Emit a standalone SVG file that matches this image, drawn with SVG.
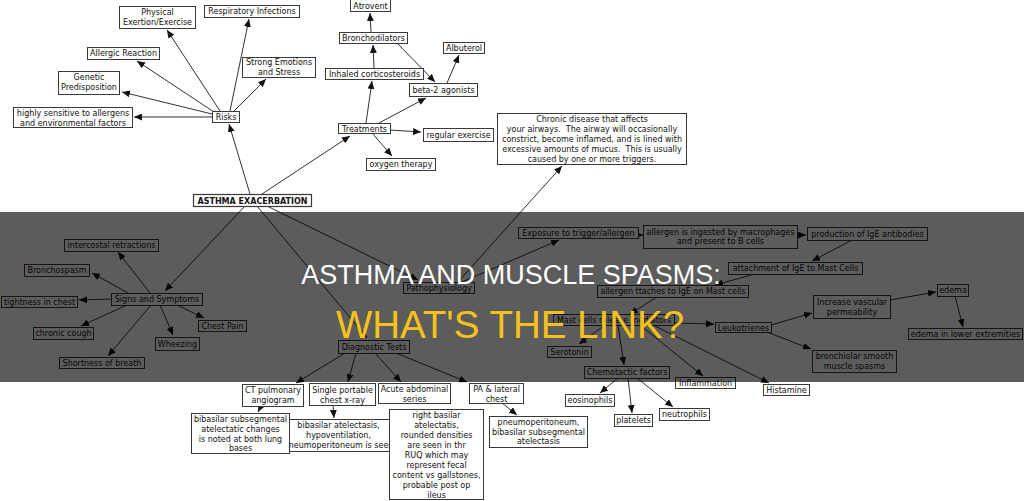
<svg xmlns="http://www.w3.org/2000/svg" width="1024" height="501" viewBox="0 0 1024 501">
<style>
rect.n{fill:#fff;stroke:#3a3a3a;stroke-width:1}
text{font-family:"DejaVu Sans",Verdana,sans-serif;font-size:8px;fill:#111;text-anchor:middle}
text.b{font-weight:bold}
text.pre{white-space:pre}
#connectors line{stroke:#333;stroke-width:1;marker-end:url(#ah)}
.t1{font-family:"Liberation Sans",Arial,sans-serif;font-size:27px;fill:#fff}
.t2{font-family:"Liberation Sans",Arial,sans-serif;font-size:38.5px;fill:#f5c21b}
</style>
<defs>
<marker id="ah" markerUnits="userSpaceOnUse" markerWidth="8" markerHeight="7" refX="8" refY="3.5" orient="auto">
<path d="M0,0 L8,3.5 L0,7 z" fill="#111"/>
</marker>
</defs>
<rect width="1024" height="501" fill="#fff"/>
<g id="connectors">
<line x1="220" y1="111" x2="167" y2="30"/>
<line x1="230" y1="111" x2="249" y2="19"/>
<line x1="214" y1="112" x2="137" y2="61"/>
<line x1="234" y1="111" x2="266" y2="79"/>
<line x1="212" y1="114" x2="122" y2="92"/>
<line x1="212" y1="117" x2="134" y2="117"/>
<line x1="250" y1="194" x2="229" y2="124"/>
<line x1="262" y1="194" x2="350" y2="136"/>
<line x1="371" y1="32" x2="370" y2="13"/>
<line x1="374" y1="68" x2="373" y2="45"/>
<line x1="397" y1="43" x2="435" y2="82"/>
<line x1="447" y1="83" x2="459" y2="55"/>
<line x1="366" y1="123" x2="372" y2="81"/>
<line x1="379" y1="123" x2="426" y2="98"/>
<line x1="390" y1="130" x2="421" y2="132"/>
<line x1="372" y1="133" x2="392" y2="156"/>
<line x1="245" y1="206" x2="165" y2="291"/>
<line x1="257" y1="206" x2="367" y2="338"/>
<line x1="267" y1="206" x2="418" y2="280"/>
<line x1="458" y1="282" x2="562" y2="166"/>
<line x1="462" y1="282" x2="559" y2="240"/>
<line x1="638" y1="235" x2="643" y2="235"/>
<line x1="797" y1="235" x2="806" y2="235"/>
<line x1="852" y1="240" x2="812" y2="261"/>
<line x1="755" y1="274" x2="715" y2="285"/>
<line x1="657" y1="297" x2="630" y2="314"/>
<line x1="674" y1="323" x2="714" y2="324"/>
<line x1="605" y1="325" x2="579" y2="344"/>
<line x1="618" y1="325" x2="624" y2="365"/>
<line x1="640" y1="325" x2="703" y2="376"/>
<line x1="653" y1="325" x2="769" y2="383"/>
<line x1="771" y1="325" x2="812" y2="313"/>
<line x1="767" y1="332" x2="811" y2="349"/>
<line x1="890" y1="300" x2="936" y2="292"/>
<line x1="955" y1="296" x2="963" y2="327"/>
<line x1="618" y1="378" x2="600" y2="393"/>
<line x1="628" y1="378" x2="632" y2="413"/>
<line x1="637" y1="378" x2="673" y2="407"/>
<line x1="150" y1="293" x2="118" y2="252"/>
<line x1="128" y1="293" x2="92" y2="273"/>
<line x1="111" y1="299" x2="79" y2="300"/>
<line x1="127" y1="305" x2="81" y2="326"/>
<line x1="177" y1="305" x2="204" y2="318"/>
<line x1="160" y1="305" x2="173" y2="335"/>
<line x1="151" y1="305" x2="108" y2="356"/>
<line x1="345" y1="353" x2="296" y2="383"/>
<line x1="356" y1="353" x2="348" y2="382"/>
<line x1="375" y1="353" x2="401" y2="382"/>
<line x1="396" y1="353" x2="467" y2="382"/>
<line x1="261" y1="406" x2="258" y2="412"/>
<line x1="333" y1="405" x2="334" y2="418"/>
<line x1="502" y1="403" x2="517" y2="415"/>
</g>
<g id="n-physical"><rect class="n" x="119.5" y="6.5" width="76" height="22"/><text x="157.5" y="15">Physical</text><text x="157.5" y="25">Exertion/Exercise</text></g>
<g id="n-respiratory"><rect class="n" x="204.5" y="5.5" width="95" height="12"/><text x="252" y="14">Respiratory Infections</text></g>
<g id="n-allergic"><rect class="n" x="87.5" y="47.5" width="72" height="12"/><text x="123.5" y="56">Allergic Reaction</text></g>
<g id="n-emotions"><rect class="n" x="242.5" y="57.5" width="73" height="20"/><text x="279" y="65">Strong Emotions</text><text x="279" y="75">and Stress</text></g>
<g id="n-genetic"><rect class="n" x="58.5" y="71.5" width="61" height="23"/><text x="89" y="80">Genetic</text><text x="89" y="90">Predisposition</text></g>
<g id="n-sensitive"><rect class="n" x="13.5" y="107.5" width="119" height="20"/><text x="73" y="116">highly sensitive to allergens</text><text x="73" y="126">and environmental factors</text></g>
<g id="n-risks"><rect class="n" x="212.5" y="111.5" width="27" height="11"/><text x="226" y="120">Risks</text></g>
<g id="n-asthma"><rect class="n" x="193.5" y="194.5" width="118" height="12" style="stroke-width:1.2"/><text class="b" x="252.5" y="203.5">ASTHMA EXACERBATION</text></g>
<g id="n-atrovent"><rect class="n" x="350.5" y="-0.5" width="40" height="12"/><text x="370.5" y="9">Atrovent</text></g>
<g id="n-bronchodilators"><rect class="n" x="339.5" y="32.5" width="68" height="11"/><text x="373.5" y="41">Bronchodilators</text></g>
<g id="n-inhaled"><rect class="n" x="325.5" y="68.5" width="98" height="11"/><text x="374.5" y="77">Inhaled corticosteroids</text></g>
<g id="n-albuterol"><rect class="n" x="443.5" y="42.5" width="41" height="11"/><text x="464" y="51">Albuterol</text></g>
<g id="n-beta2"><rect class="n" x="409.5" y="83.5" width="68" height="13"/><text x="443.5" y="92.5">beta-2 agonists</text></g>
<g id="n-treatments"><rect class="n" x="338.5" y="123.5" width="52" height="10"/><text x="364.5" y="131.5">Treatments</text></g>
<g id="n-exercise"><rect class="n" x="423.5" y="128.5" width="70" height="13"/><text x="458.5" y="137.5">regular exercise</text></g>
<g id="n-oxygen"><rect class="n" x="366.5" y="158.5" width="69" height="12"/><text x="401" y="167">oxygen therapy</text></g>
<g id="n-chronic"><rect class="n" x="497.5" y="113.5" width="189" height="51"/>
<text class="pre" x="592" y="121.5">Chronic disease that affects</text>
<text class="pre" x="592" y="131.5">your airways.  The airway will occasionally</text>
<text class="pre" x="592" y="141.5">constrict, become inflamed, and is lined with</text>
<text class="pre" x="592" y="151.5">excessive amounts of mucus.  This is usually</text>
<text class="pre" x="592" y="161.5">caused by one or more triggers.</text></g>
<g id="n-exposure"><rect class="n" x="518.5" y="227.5" width="120" height="11"/><text x="578.5" y="235.5">Exposure to trigger/allergen</text></g>
<g id="n-ingested"><rect class="n" x="643.5" y="225.5" width="154" height="23"/><text x="720.5" y="234.5">allergen is ingested by macrophages</text><text x="720.5" y="244">and present to B cells</text></g>
<g id="n-ige"><rect class="n" x="807.5" y="227.5" width="120" height="13"/><text x="867.5" y="236.5">production of IgE antibodies</text></g>
<g id="n-attach"><rect class="n" x="728.5" y="262.5" width="134" height="12"/><text x="795.5" y="271">attachment of IgE to Mast Cells</text></g>
<g id="n-ttaches"><rect class="n" x="597.5" y="285.5" width="151" height="12"/><text x="673" y="294">allergen ttaches to IgE on Mast cells</text></g>
<g id="n-mast"><rect class="n" x="553.5" y="314.5" width="121" height="11"/><text x="614" y="323">Mast cells release mediators</text></g>
<g id="n-leuko"><rect class="n" x="715.5" y="322.5" width="56" height="10"/><text x="743.5" y="330.5">Leukotrienes</text></g>
<g id="n-serotonin"><rect class="n" x="547.5" y="346.5" width="44" height="11"/><text x="569.5" y="355">Serotonin</text></g>
<g id="n-chemo"><rect class="n" x="584.5" y="366.5" width="85" height="12"/><text x="627" y="375">Chemotactic factors</text></g>
<g id="n-inflam"><rect class="n" x="675.5" y="377.5" width="60" height="11"/><text x="705.5" y="386">Inflammation</text></g>
<g id="n-histamine"><rect class="n" x="763.5" y="384.5" width="46" height="11"/><text x="786.5" y="393">Histamine</text></g>
<g id="n-vascular"><rect class="n" x="813.5" y="295.5" width="77" height="23"/><text x="852" y="305">Increase vascular</text><text x="852" y="315">permeability</text></g>
<g id="n-spasms"><rect class="n" x="812.5" y="350.5" width="84" height="22"/><text x="854.5" y="359">bronchiolar smooth</text><text x="854.5" y="369">muscle spasms</text></g>
<g id="n-edema"><rect class="n" x="937.5" y="284.5" width="31" height="12"/><text x="953" y="293">edema</text></g>
<g id="n-edema-lower"><rect class="n" x="908.5" y="328.5" width="114" height="11"/><text x="965.5" y="337">edema in lower extremities</text></g>
<g id="n-eosin"><rect class="n" x="565.5" y="394.5" width="49" height="12"/><text x="590" y="403">eosinophils</text></g>
<g id="n-platelets"><rect class="n" x="614.5" y="414.5" width="38" height="12"/><text x="633.5" y="423">platelets</text></g>
<g id="n-neutro"><rect class="n" x="659.5" y="408.5" width="50" height="12"/><text x="684.5" y="417">neutrophils</text></g>
<g id="n-intercostal"><rect class="n" x="64.5" y="239.5" width="94" height="12"/><text x="111.5" y="248">intercostal retractions</text></g>
<g id="n-bronchospasm"><rect class="n" x="24.5" y="264.5" width="65" height="12"/><text x="57" y="273">Bronchospasm</text></g>
<g id="n-tightness"><rect class="n" x="1.5" y="296.5" width="76" height="11"/><text x="39.5" y="305">tightness in chest</text></g>
<g id="n-signs"><rect class="n" x="111.5" y="293.5" width="91" height="12"/><text x="157" y="302">Signs and Symptoms</text></g>
<g id="n-cough"><rect class="n" x="33.5" y="327.5" width="60" height="12"/><text x="63.5" y="336">chronic cough</text></g>
<g id="n-chestpain"><rect class="n" x="198.5" y="320.5" width="48" height="11"/><text x="222.5" y="329">Chest Pain</text></g>
<g id="n-wheezing"><rect class="n" x="155.5" y="337.5" width="44" height="13"/><text x="177.5" y="346.5">Wheezing</text></g>
<g id="n-shortness"><rect class="n" x="59.5" y="357.5" width="85" height="11"/><text x="102" y="366">Shortness of breath</text></g>
<g id="n-patho"><rect class="n" x="403.5" y="282.5" width="71" height="11"/><text x="439" y="291">Pathophysiology</text></g>
<g id="n-diagnostic"><rect class="n" x="338.5" y="340.5" width="71" height="13"/><text x="374" y="349.5">Diagnostic Tests</text></g>
<g id="n-ct"><rect class="n" x="242.5" y="384.5" width="61" height="22"/><text x="273" y="393">CT pulmonary</text><text x="273" y="403">angiogram</text></g>
<g id="n-single"><rect class="n" x="309.5" y="383.5" width="66" height="22"/><text x="342.5" y="392.5">Single portable</text><text x="342.5" y="402.5">chest x-ray</text></g>
<g id="n-acute"><rect class="n" x="378.5" y="383.5" width="72" height="20"/><text x="414.5" y="391.5">Acute abdominal</text><text x="414.5" y="401.5">series</text></g>
<g id="n-pa"><rect class="n" x="469.5" y="383.5" width="54" height="20"/><text x="496.5" y="391.5">PA &amp; lateral</text><text x="496.5" y="401.5">chest</text></g>
<g id="n-atelectasis"><rect class="n" x="280.5" y="419.5" width="116" height="32"/><text x="338.5" y="428">bibasilar atelectasis,</text><text x="338.5" y="438">hypoventilation,</text><text x="338.5" y="448">pneumoperitoneum is seen</text></g>
<g id="n-subseg"><rect class="n" x="191.5" y="413.5" width="98" height="40"/><text x="240.5" y="422">bibasilar subsegmental</text><text x="240.5" y="432">atelectatic changes</text><text x="240.5" y="442">is noted at both lung</text><text x="240.5" y="451">bases</text></g>
<g id="n-rightbasilar"><rect class="n" x="389.5" y="409.5" width="94" height="90"/>
<text x="436.5" y="418">right basilar</text><text x="436.5" y="428">atelectatis,</text><text x="436.5" y="438">rounded densities</text><text x="436.5" y="448">are seen in thr</text><text x="436.5" y="458">RUQ which may</text><text x="436.5" y="468">represent fecal</text><text x="436.5" y="478">content vs gallstones,</text><text x="436.5" y="488">probable post op</text><text x="436.5" y="498">ileus</text></g>
<g id="n-pneumo"><rect class="n" x="489.5" y="416.5" width="98" height="31"/><text x="538.5" y="425">pneumoperitoneum,</text><text x="538.5" y="435">bibasilar subsegmental</text><text x="538.5" y="444">atelectasis</text></g>
<rect x="0" y="212" width="1024" height="170" fill="#000" fill-opacity="0.64"/>
<text class="t1" x="511" y="284">ASTHMA AND MUSCLE SPASMS:</text>
<text class="t2" x="510" y="338">WHAT'S THE LINK?</text>
</svg>
